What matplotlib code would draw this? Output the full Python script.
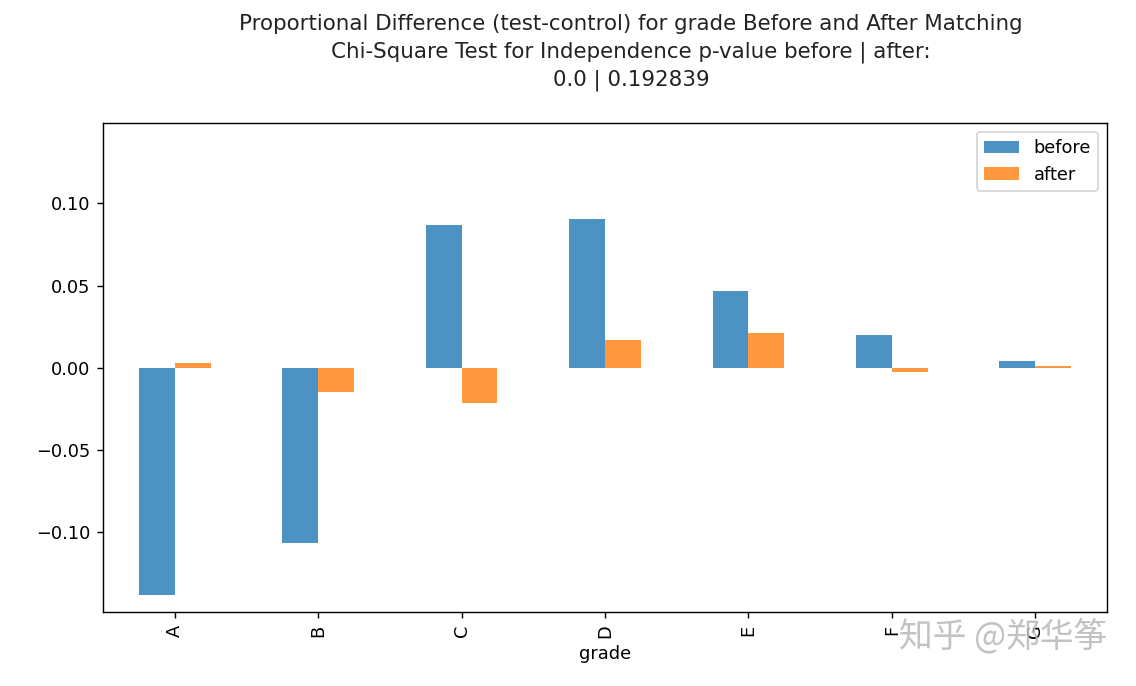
import matplotlib
matplotlib.use("Agg")
import matplotlib.pyplot as plt
import numpy as np

grades = ["A", "B", "C", "D", "E", "F", "G"]
before = [-0.1383, -0.1065, 0.0867, 0.0903, 0.0464, 0.0200, 0.0038]
after = [0.0026, -0.0148, -0.0213, 0.0168, 0.0213, -0.0028, 0.0010]
yticks = [-0.10, -0.05, 0.00, 0.05, 0.10]

title = ("Proportional Difference (test-control) for grade Before and After Matching\n"
         "Chi-Square Test for Independence p-value before | after:\n"
         "0.0 | 0.192839")

plt.rcParams['font.family'] = ['DejaVu Sans']
fig = plt.figure(figsize=(1136/128, 686/128), dpi=128)
ax = fig.add_axes([103/1136, 1 - 612/686, (1107-103)/1136, (612-123)/686])

x = np.arange(len(grades))
w = 0.25
ax.bar(x - w/2, before, width=w, color="#1f77b4", alpha=0.8, label="before")
ax.bar(x + w/2, after, width=w, color="#ff7f0e", alpha=0.8, label="after")

ax.set_xlim(-0.5, len(grades) - 0.5)
ax.set_ylim(-0.1485, 0.1488)
ax.set_yticks(yticks)
ax.set_yticklabels([f"{v:.2f}".replace("-", "\u2212") for v in yticks])
ax.set_xticks(x)
ax.set_xticklabels(grades, rotation=90)
ax.set_xlabel("grade")
ax.legend(loc="upper right")

fig.text(631/1136, 1 - 14/686, title, va="top", ha="center", fontsize=12,
         linespacing=1.45, color="#222222")

fig.text(1003/1136, 1 - 637/686, "知乎 @郑华筝", family=['Noto Sans CJK SC', 'DejaVu Sans'],
         fontsize=19, color="#b8b8b8", alpha=0.85, ha="center", va="center")

fig.savefig("out.png", dpi=128)
